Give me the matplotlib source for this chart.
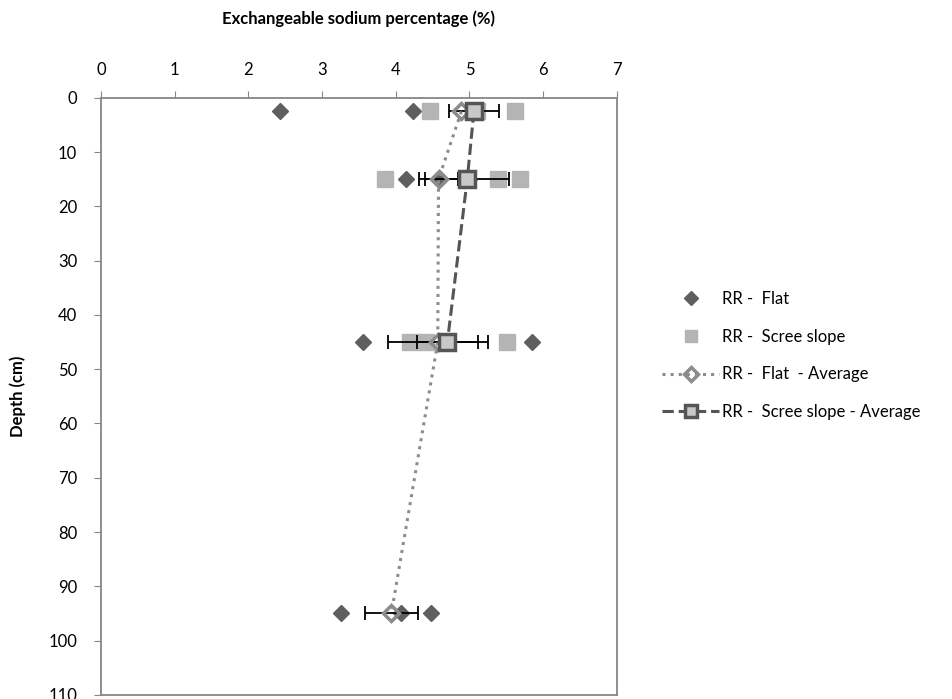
import numpy as np
import matplotlib.pyplot as plt

plt.rcParams['font.family'] = ['Lato', 'DejaVu Sans']

# flat site, individual samples
flat_depth = [2.5, 2.5, 15, 15, 15, 45, 45, 45, 95, 95, 95]
flat_esp = [2.43, 4.23, 4.14, 4.60, 5.00, 3.56, 4.30, 5.85, 3.26, 4.07, 4.48]

# scree slope, individual samples
scree_depth = [2.5, 2.5, 2.5, 15, 15, 15, 45, 45, 45]
scree_esp = [4.46, 5.10, 5.62, 3.85, 5.39, 5.68, 4.19, 4.41, 5.51]

# averages with standard errors
flat_avg_depth = [2.5, 15, 45, 95]
flat_avg = [4.89, 4.58, 4.57, 3.94]
flat_se = [np.nan, 0.27, 0.68, 0.36]

scree_avg_depth = [2.5, 15, 45]
scree_avg = [5.06, 4.97, 4.70]
scree_se = [0.34, 0.57, 0.41]

fig = plt.figure(figsize=(9.52, 6.99), dpi=100)
ax = fig.add_axes([0.106, 0.006, 0.542, 0.854])

h1, = ax.plot(flat_esp, flat_depth, 'D', color='#5f5f5f', ms=8, ls='none',
              label='RR -  Flat')
h2, = ax.plot(scree_esp, scree_depth, 's', color='#b4b4b4', ms=11, ls='none',
              label='RR -  Scree slope')

ax.errorbar(flat_avg, flat_avg_depth, xerr=flat_se, fmt='none', ecolor='black',
            elinewidth=1.3, capsize=5, capthick=1.3, zorder=3)
ax.errorbar(scree_avg, scree_avg_depth, xerr=scree_se, fmt='none', ecolor='black',
            elinewidth=1.3, capsize=5, capthick=1.3, zorder=3)

h3, = ax.plot(flat_avg, flat_avg_depth, ls=':', lw=2.2, color='#8c8c8c',
              marker='D', ms=8, mfc='none', mec='#8c8c8c', mew=2.5, zorder=4,
              label='RR -  Flat  - Average')
h4, = ax.plot(scree_avg, scree_avg_depth, ls='--', lw=2.2, color='#555555',
              marker='s', ms=11, mfc='#c8c8c8', mec='#555555', mew=2.5, zorder=5,
              label='RR -  Scree slope - Average')

ax.set_xlim(0, 7)
ax.set_ylim(110, 0)
ax.set_xticks(range(0, 8))
ax.set_yticks(range(0, 111, 10))
ax.xaxis.tick_top()
ax.xaxis.set_label_position('top')
ax.tick_params(axis='both', direction='out', length=5, color='#868686',
               labelsize=12, pad=6)
ax.tick_params(axis='x', pad=9)
ax.tick_params(axis='y', pad=12)
for s in ax.spines.values():
    s.set_color('#868686')
    s.set_linewidth(1.3)

ax.set_xlabel('Exchangeable sodium percentage (%)', fontsize=12,
              fontweight='bold', labelpad=28)
ax.set_ylabel('Depth (cm)', fontsize=12, fontweight='bold', labelpad=16)

fig.legend(handles=[h1, h2, h3, h4], loc='upper left',
           bbox_to_anchor=(0.68, 0.605), frameon=False, fontsize=12,
           handlelength=3.4, labelspacing=1.3, handletextpad=0.15,
           markerscale=0.85)

fig.savefig('out.png', dpi=100)
